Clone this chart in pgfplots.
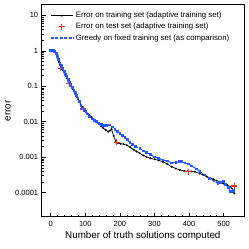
\documentclass[border=0pt]{standalone}
\usepackage{pgfplots}
\pgfplotsset{compat=1.18}
\usepackage{fontspec}
\setmainfont{Liberation Sans}
\definecolor{myblue}{RGB}{40,90,255}
\definecolor{myred}{RGB}{255,45,20}
\begin{document}
\begin{tikzpicture}
\useasboundingbox (-41.7pt,-32.3pt) rectangle (207.3pt,216.7pt);
\begin{axis}[
  scale only axis, width=202.3pt, height=212pt,
  ymode=log, xmin=-26, xmax=559, ymin=2.1e-5, ymax=20,
  xtick={0,100,200,300,400,500}, minor x tick num=4,
  ytick={1e-4,1e-3,1e-2,1e-1,1,10},
  yticklabels={0.0001,0.001,0.01,0.1,1,10},
  xtick pos=left, ytick pos=left, tick align=inside,
  major tick length=4pt, minor tick length=2pt,
  tick style={black, line width=0.5pt},
  axis line style={line width=0.8pt},
  /pgf/number format/assume math mode=true,
  tick label style={font=\fontsize{7.5}{8}\selectfont},
  xticklabel style={yshift=-1pt},
  xlabel={Number of truth solutions computed},
  ylabel={error},
  label style={font=\fontsize{9.8}{11}\selectfont},
  xlabel style={at={(axis description cs:0.5,0)}, anchor=center, yshift=-19.3pt},
  ylabel style={at={(axis description cs:0,0.5)}, anchor=center, yshift=33.7pt},
  legend style={at={(0.025,0.985)}, anchor=north west, draw=none, fill=none,
    font=\fontsize{7.8}{8.5}\selectfont, row sep=0pt, legend cell align=left},
  legend image code/.code={\draw[mark repeat=2,mark phase=2] plot coordinates {(0cm,0cm) (0.4cm,0cm) (0.8cm,0cm)};},
]
\addplot[black, line width=0.7pt, mark=o, mark size=0.6pt] coordinates {
(0,1) (4,1) (8,1) (12,0.955) (15,0.832) (18,0.692) (21,0.575) (24,0.479) (27,0.398)
(31,0.331) (35,0.282) (39,0.240) (43,0.200) (47,0.170) (51,0.141) (55,0.117) (59,0.100)
(63,0.0851) (67,0.0724) (71,0.0603) (75,0.0513) (79,0.0437) (83,0.0372) (87,0.0302)
(91,0.0263) (95,0.0229) (99,0.0200) (104,0.0174) (110,0.0158) (118,0.0138) (124,0.0120)
(131,0.0102) (138,0.00912) (145,0.00759) (152,0.00661) (159,0.00589) (166,0.00525)
(171,0.00562) (176,0.00617) (182,0.00398) (188,0.00282) (194,0.00251) (202,0.00240)
(210,0.00234) (220,0.00219) (230,0.00191) (240,0.00162) (248,0.00145) (258,0.00129)
(268,0.00112) (277,0.00102) (288,0.000933) (301,0.000871) (312,0.000813) (325,0.000741)
(337,0.000646) (350,0.000537) (362,0.000479) (374,0.000437) (386,0.000407) (398,0.000407)
(408,0.000398) (417,0.000389) (431,0.000347) (441,0.000316) (452,0.000282) (462,0.000257)
(470,0.000240) (480,0.000219) (490,0.000200) (499,0.000182) (510,0.000166) (518,0.000148)
(524,0.000132) (528,0.000107) (531,0.0000955)
};
\addlegendentry{Error on training set (adaptive training set)}
\addplot[only marks, myred, mark=+, mark size=3pt, line width=1.2pt] coordinates {
(29,0.32) (54,0.117) (94,0.023) (191,0.0026) (398,0.00039) (531,0.000155)
};
\addlegendentry{Error on test set (adaptive training set)}
\addplot[myblue, line width=1.1pt, dash pattern=on 3pt off 1.5pt, mark=square*, mark size=0.8pt, mark options={solid}] coordinates {
(0,1) (4,1) (8,1) (12,0.977) (16,0.832) (19,0.692) (23,0.562) (27,0.457) (31,0.380)
(35,0.316) (39,0.263) (43,0.219) (47,0.186) (51,0.155) (55,0.129) (59,0.107) (63,0.0912)
(67,0.0776) (71,0.0661) (75,0.0562) (79,0.0468) (83,0.0372) (88,0.0282) (92,0.0240)
(97,0.0214) (102,0.0195) (107,0.0166) (113,0.0141) (120,0.0120) (127,0.0107) (133,0.0100)
(140,0.00912) (147,0.00832) (152,0.00794) (157,0.00776) (163,0.00794) (171,0.00813)
(178,0.00708) (186,0.00603) (193,0.00525) (200,0.00468) (208,0.00417) (215,0.00363)
(222,0.00316) (229,0.00257) (236,0.00224) (245,0.00200) (258,0.00178) (268,0.00151)
(277,0.00135) (288,0.00117) (301,0.00102) (312,0.000933) (325,0.000832) (337,0.000776)
(350,0.000692) (362,0.000708) (372,0.000741) (379,0.000741) (388,0.000692) (398,0.000646)
(408,0.000562) (422,0.000468) (432,0.000389) (446,0.000316) (460,0.000251) (472,0.000214)
(484,0.000182) (492,0.000191) (499,0.000204) (506,0.000170) (514,0.000141) (520,0.000107)
(524,0.000110) (528,0.000117)
};
\addlegendentry{Greedy on fixed training set (as comparison)}
\end{axis}
\end{tikzpicture}
\end{document}
